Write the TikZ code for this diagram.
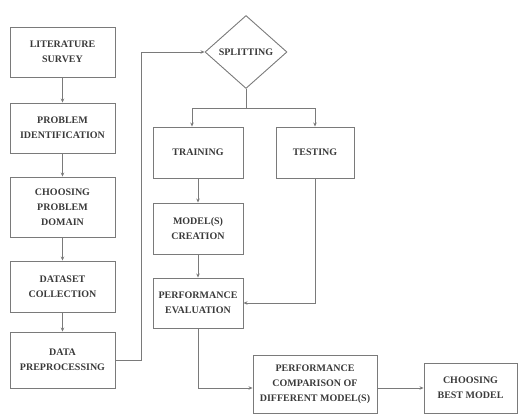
\documentclass[tikz,border=0pt]{standalone}
\usepackage{fontspec}
\setmainfont{Liberation Serif}
\usetikzlibrary{shapes.geometric,arrows.meta}
\definecolor{lineg}{HTML}{7A7A7A}
\definecolor{textg}{HTML}{3A3A3A}
\tikzset{
  box/.style={draw=lineg, line width=0.9pt, rectangle, inner sep=1pt, align=center,
    text=textg, font=\fontsize{10}{15}\selectfont\bfseries},
  dia/.style={draw=lineg, line width=0.9pt, diamond, inner sep=1pt, align=center,
    minimum width=82pt, minimum height=73pt, text=textg, font=\fontsize{10}{15}\selectfont\bfseries},
  arr/.style={draw=lineg, line width=0.9pt, -{Stealth[length=4pt,width=3.5pt]}},
  ln/.style={draw=lineg, line width=0.9pt}
}
\begin{document}
\begin{tikzpicture}[x=1pt,y=-1pt]
\useasboundingbox (0,0) rectangle (518,414);
% left column
\node[box, minimum width=105pt, minimum height=50pt] (lit) at (62.5,52) {LITERATURE\\SURVEY};
\node[box, minimum width=105pt, minimum height=50pt] (pid) at (62.5,128) {PROBLEM\\IDENTIFICATION};
\node[box, minimum width=105pt, minimum height=60pt] (dom) at (62.5,207) {CHOOSING\\PROBLEM\\DOMAIN};
\node[box, minimum width=105pt, minimum height=51pt] (dat) at (62.5,286.5) {DATASET\\COLLECTION};
\node[box, minimum width=105pt, minimum height=56pt] (pre) at (62.5,360) {DATA\\PREPROCESSING};
% splitting
\node[dia] (spl) at (246,52) {SPLITTING};
\node[box, minimum width=90pt, minimum height=51pt] (tra) at (198,152.5) {TRAINING};
\node[box, minimum width=78pt, minimum height=51pt] (tes) at (315,152.5) {TESTING};
\node[box, minimum width=90pt, minimum height=51pt] (mod) at (198,228.5) {MODEL(S)\\CREATION};
\node[box, minimum width=90pt, minimum height=50pt] (eva) at (198,303) {PERFORMANCE\\EVALUATION};
\node[box, minimum width=124pt, minimum height=58pt] (cmp) at (315,384) {PERFORMANCE\\COMPARISON OF\\DIFFERENT MODEL(S)};
\node[box, minimum width=93pt, minimum height=50pt] (bst) at (470.5,388) {CHOOSING\\BEST MODEL};
\coordinate (c1) at (141,360);
\coordinate (j) at (246,108);
% connectors
\draw[arr] (lit) -- (pid);
\draw[arr] (pid) -- (dom);
\draw[arr] (dom) -- (dat);
\draw[arr] (dat) -- (pre);
\draw[arr] (pre.east |- c1) -- (c1) |- (spl.west);
\draw[ln] (spl.south) -- (j);
\draw[arr] (j) -| ([xshift=-6pt]tra.north);
\draw[arr] (j) -| (tes.north);
\draw[arr] (tra) -- (mod);
\draw[arr] (mod) -- (eva);
\draw[arr] (tes.south) |- (eva.east);
\draw[arr] (eva.south) |- (cmp.west |- bst.west);
\draw[arr] (cmp.east |- bst.west) -- (bst.west);
\end{tikzpicture}
\end{document}
